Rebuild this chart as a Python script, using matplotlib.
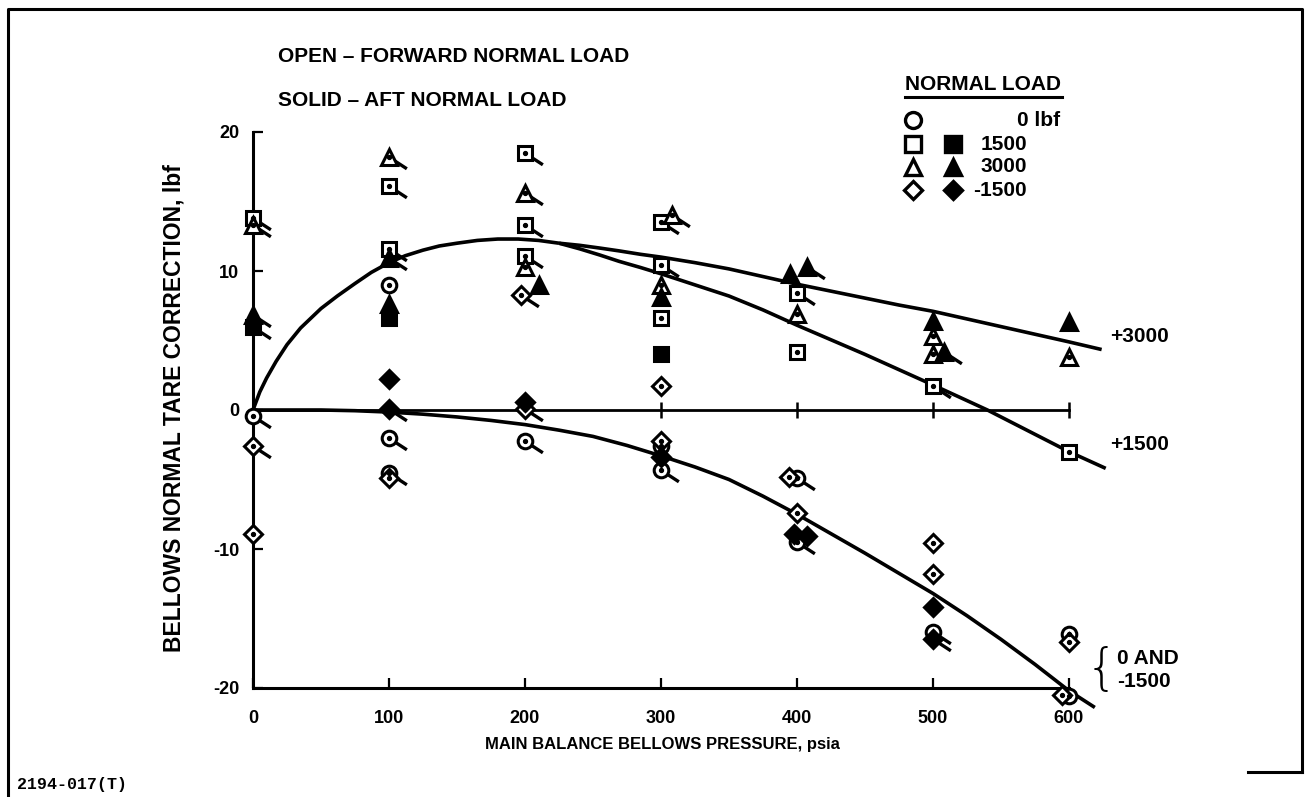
import matplotlib
matplotlib.use("Agg")
import matplotlib.pyplot as plt
from matplotlib.path import Path
from matplotlib.lines import Line2D

plt.rcParams['font.family'] = ['Liberation Sans', 'DejaVu Sans']
plt.rcParams['font.weight'] = 'bold'
plt.rcParams['axes.unicode_minus'] = False

# ---- data (pressure psia, tare correction lbf, flagged?) ----
# open markers = forward normal load, solid = aft normal load
circ_open_x = [0, 100, 100, 100, 200, 300, 300, 400, 400, 500, 600, 600]
circ_open_y = [-0.4, 9.0, -2.0, -4.5, -2.2, -2.6, -4.3, -4.9, -9.5, -16.0, -16.1, -20.6]
circ_open_f = [1, 0, 1, 1, 1, 0, 1, 1, 1, 1, 0, 0]

sq_open_x = [0, 100, 100, 200, 200, 200, 300, 300, 300, 400, 400, 500, 600]
sq_open_y = [13.8, 16.1, 11.6, 18.5, 13.3, 11.1, 13.5, 10.4, 6.6, 8.4, 4.2, 1.7, -3.0]
sq_open_f = [1, 1, 1, 1, 1, 1, 1, 1, 0, 1, 0, 1, 0]

sq_solid_x = [0, 100, 300]
sq_solid_y = [6.0, 6.6, 4.0]
sq_solid_f = [1, 0, 0]

tri_open_x = [0, 100, 200, 200, 308, 300, 400, 500, 500, 600]
tri_open_y = [13.3, 18.2, 15.6, 10.3, 14.0, 9.0, 6.9, 5.3, 4.0, 3.8]
tri_open_f = [1, 1, 1, 0, 1, 0, 0, 0, 0, 0]

tri_solid_x = [0, 100, 100, 210, 300, 395, 407, 500, 508, 600]
tri_solid_y = [6.8, 10.9, 7.6, 9.0, 8.1, 9.8, 10.3, 6.4, 4.2, 6.3]
tri_solid_f = [1, 1, 0, 0, 0, 0, 1, 0, 1, 0]

dia_open_x = [0, 0, 100, 197, 200, 300, 300, 394, 400, 500, 500, 600, 595]
dia_open_y = [-2.6, -8.9, -4.9, 8.3, 0.1, 1.7, -2.2, -4.8, -7.4, -9.6, -11.8, -16.7, -20.5]
dia_open_f = [1, 0, 0, 1, 1, 0, 0, 0, 0, 0, 0, 0, 0]

dia_solid_x = [100, 100, 200, 300, 398, 407, 500, 500]
dia_solid_y = [2.2, 0.1, 0.6, -3.4, -8.9, -9.1, -14.2, -16.5]
dia_solid_f = [0, 1, 0, 0, 0, 0, 0, 1]

# faired curves
rise_x = [0, 5, 10, 17, 25, 35, 50, 62, 75, 87, 100, 112, 125, 137, 150, 165, 180, 195, 210, 225]
rise_y = [0, 1.3, 2.3, 3.5, 4.7, 5.9, 7.3, 8.2, 9.1, 9.9, 10.6, 11.1, 11.5, 11.8, 12.0, 12.2,
          12.3, 12.3, 12.2, 12.0]
c3000_x = [225, 240, 255, 269, 285, 300, 325, 350, 375, 400, 425, 450, 475, 500, 525, 550,
           575, 600, 624]
c3000_y = [12.0, 11.85, 11.65, 11.45, 11.2, 11.0, 10.6, 10.15, 9.6, 9.05, 8.55, 8.05, 7.55,
           7.1, 6.55, 6.0, 5.45, 4.9, 4.35]
c1500_x = [225, 240, 255, 269, 285, 300, 325, 350, 375, 400, 425, 450, 475, 500, 520, 540,
           560, 580, 600, 627]
c1500_y = [12.0, 11.6, 11.15, 10.7, 10.25, 9.8, 9.0, 8.2, 7.2, 6.1, 5.05, 4.0, 2.9, 1.8, 0.9,
           0.0, -1.0, -2.0, -3.0, -4.2]
c0_x = [0, 50, 75, 100, 125, 150, 175, 200, 225, 250, 275, 300, 325, 350, 375, 400, 425, 450,
        475, 500, 525, 550, 575, 600, 619]
c0_y = [0, 0, -0.05, -0.15, -0.3, -0.5, -0.75, -1.05, -1.45, -1.9, -2.55, -3.3, -4.1, -5.0,
        -6.2, -7.5, -8.9, -10.3, -11.75, -13.2, -14.8, -16.5, -18.3, -20.2, -21.4]

x_ticks = [0, 100, 200, 300, 400, 500, 600]
y_ticks = [-20, -10, 0, 10, 20]

fig = plt.figure(figsize=(13.05, 7.97), dpi=100)
ax = fig.add_axes([0, 0, 1, 1])
ax.set_xlim(-253 / 1.36, (1305 - 253) / 1.36)
ax.set_ylim(-387 / 13.9, 410 / 13.9)

for s in ['top', 'right']:
    ax.spines[s].set_visible(False)
ax.spines['left'].set_position(('data', 0))
ax.spines['left'].set_bounds(-20, 20)
ax.spines['bottom'].set_position(('data', -20))
ax.spines['bottom'].set_bounds(0, 600)
for s in ['left', 'bottom']:
    ax.spines[s].set_linewidth(2.2)
ax.set_xticks(x_ticks)
ax.set_yticks(y_ticks)
ax.tick_params(axis='x', direction='in', length=7, width=1.6, pad=16, labelsize=13)
ax.tick_params(axis='y', direction='in', length=7, width=1.6, pad=10, labelsize=13)
for lab in ax.get_xticklabels() + ax.get_yticklabels():
    lab.set_fontweight('bold')

# zero reference line with crossing ticks
ax.plot([0, 600], [0, 0], color='black', lw=2.0, zorder=2)
ax.plot(x_ticks[1:], [0] * 6, ls='none', marker='|', ms=12, mew=1.8, color='black', zorder=2)

# curves
for cx, cy in [(rise_x, rise_y), (c3000_x, c3000_y), (c1500_x, c1500_y), (c0_x, c0_y)]:
    ax.plot(cx, cy, color='black', lw=2.6, solid_capstyle='butt', solid_joinstyle='round',
            zorder=3)

flag = Path([(0, 0), (1, -0.65)], [Path.MOVETO, Path.LINETO])

series = [
    (circ_open_x, circ_open_y, circ_open_f, 'o', 10.5, 'white'),
    (sq_open_x, sq_open_y, sq_open_f, 's', 10, 'white'),
    (sq_solid_x, sq_solid_y, sq_solid_f, 's', 10, 'black'),
    (tri_open_x, tri_open_y, tri_open_f, '^', 11, 'white'),
    (tri_solid_x, tri_solid_y, tri_solid_f, '^', 11, 'black'),
    (dia_open_x, dia_open_y, dia_open_f, 'D', 9, 'white'),
    (dia_solid_x, dia_solid_y, dia_solid_f, 'D', 9, 'black'),
]
for xs, ys, fs, mk, ms, fc in series:
    fx = [x for x, f in zip(xs, fs) if f]
    fy = [y for y, f in zip(ys, fs) if f]
    ax.plot(fx, fy, ls='none', marker=flag, ms=25, mew=2.4, color='black', zorder=4)
    ax.plot(xs, ys, ls='none', marker=mk, ms=ms, mfc=fc, mec='black', mew=2.2, zorder=5)
    if fc == 'white':
        ax.plot(xs, ys, ls='none', marker='o', ms=2.8, color='black', zorder=6)

# curve labels
lx = (1110 - 253) / 1.36
ax.text(lx, 5.3, '+3000', fontsize=15, va='center', ha='left')
ax.text(lx, -2.5, '+1500', fontsize=15, va='center', ha='left')
ax.text((1117 - 253) / 1.36, -17.9, '0 AND', fontsize=15, va='center', ha='left')
ax.text((1117 - 253) / 1.36, -19.5, '-1500', fontsize=15, va='center', ha='left')
ax.text((1102 - 253) / 1.36, -18.7, '{', fontsize=36, va='center', ha='center',
        fontweight='light', family='DejaVu Sans')

# axis titles
fig.text(662 / 1305, 1 - 745 / 797, 'MAIN BALANCE BELLOWS PRESSURE, psia',
         fontsize=12, ha='center', va='center')
fig.text(174 / 1305, 1 - 408 / 797, 'BELLOWS NORMAL TARE CORRECTION, lbf',
         fontsize=16.5, ha='center', va='center', rotation=90)

# notes
fig.text(278 / 1305, 1 - 56 / 797, 'OPEN \u2013 FORWARD NORMAL LOAD', fontsize=15,
         ha='left', va='center')
fig.text(278 / 1305, 1 - 101 / 797, 'SOLID \u2013 AFT NORMAL LOAD', fontsize=15,
         ha='left', va='center')

# key
fig.text(905 / 1305, 1 - 85 / 797, 'NORMAL LOAD', fontsize=15, ha='left', va='center')
fig.add_artist(Line2D([905 / 1305, 1062 / 1305], [1 - 97 / 797, 1 - 97 / 797],
                      color='black', lw=2.2))
key_rows = [('o', None, '0 lbf'), ('s', 's', '1500'), ('^', '^', '3000'), ('D', 'D', '-1500')]
key_y = [120, 144, 167, 190]
key_ms = {'o': 11.5, 's': 11, '^': 12, 'D': 9.5}
for (mo, ms_, lab), py in zip(key_rows, key_y):
    yy = 1 - py / 797
    fig.add_artist(Line2D([913 / 1305], [yy], ls='none', marker=mo, ms=key_ms[mo],
                          mfc='white', mec='black', mew=2.4))
    if ms_:
        fig.add_artist(Line2D([953 / 1305], [yy], ls='none', marker=ms_, ms=key_ms[ms_],
                              mfc='black', mec='black', mew=2.4))
    xr = 1060 if lab == '0 lbf' else 1027
    fig.text(xr / 1305, yy, lab, fontsize=15, ha='right', va='center')

fig.text(17 / 1305, 1 - 785 / 797, '2194-017(T)', fontsize=12, ha='left', va='center',
         family='Liberation Mono', fontweight='bold')

# frame around the figure
fig.add_artist(Line2D([8 / 1305, 8 / 1305, 1302 / 1305, 1302 / 1305],
                      [0, 1 - 9 / 797, 1 - 9 / 797, 1 - 772 / 797], color='black', lw=2.2))
fig.add_artist(Line2D([1248 / 1305, 1302 / 1305], [1 - 772 / 797, 1 - 772 / 797],
                      color='black', lw=2.2))

fig.savefig('out.png', dpi=100)
